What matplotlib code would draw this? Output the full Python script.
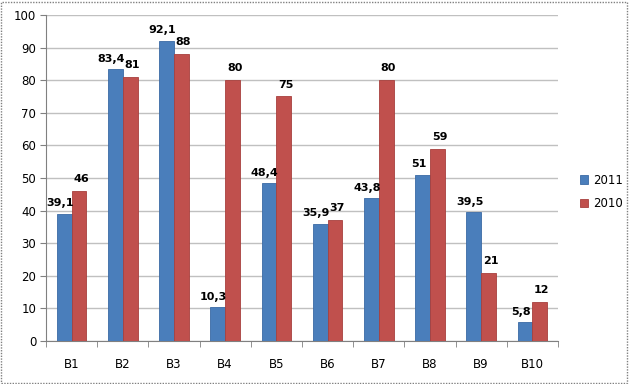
import matplotlib
matplotlib.use("Agg")
import matplotlib.pyplot as plt
import numpy as np
from matplotlib.patches import Rectangle

categories = ["B1", "B2", "B3", "B4", "B5", "B6", "B7", "B8", "B9", "B10"]
s2011 = [39.1, 83.4, 92.1, 10.3, 48.4, 35.9, 43.8, 51, 39.5, 5.8]
s2010 = [46, 81, 88, 80, 75, 37, 80, 59, 21, 12]
series_names = ["2011", "2010"]
colors = ["#4a7ebb", "#c0504d"]

def fmt(v):
    s = ("%g" % v)
    return s.replace(".", ",")

fig = plt.figure(figsize=(6.29, 3.84), dpi=100)
fig.patch.set_facecolor("white")
fig.patches.append(Rectangle((0.002, 0.003), 0.995, 0.993, transform=fig.transFigure,
                             fill=False, edgecolor="#808080", linestyle=(0, (1, 1)), linewidth=1))
ax = fig.add_axes([0.0731, 0.112, 0.814, 0.849])
x = np.arange(len(categories))
w = 0.29
b1 = ax.bar(x - w / 2, s2011, w, color=colors[0], edgecolor="#3a6aa5", linewidth=0.6, label=series_names[0], zorder=3)
b2 = ax.bar(x + w / 2, s2010, w, color=colors[1], edgecolor="#a8403d", linewidth=0.6, label=series_names[1], zorder=3)
for xi, v in zip(x, s2011):
    ax.annotate(fmt(v), (xi - w / 2, v), xytext=(-3, 4), textcoords="offset points",
                ha="center", va="bottom", fontsize=8, fontweight="bold", zorder=4)
for xi, v in zip(x, s2010):
    ax.annotate(fmt(v), (xi + w / 2, v), xytext=(1.5, 5), textcoords="offset points",
                ha="center", va="bottom", fontsize=8, fontweight="bold", zorder=4)

ax.set_xlim(-0.5, len(categories) - 0.5)
ax.set_ylim(0, 100)
ax.set_yticks(np.arange(0, 101, 10))
ax.set_xticks(x)
ax.set_xticklabels(categories)
ax.set_xticks(np.arange(-0.5, len(categories), 1), minor=True)
ax.tick_params(axis="x", which="major", length=0, pad=12, labelsize=8.5)
ax.tick_params(axis="x", which="minor", length=4, color="#808080")
ax.tick_params(axis="y", length=4, color="#808080", labelsize=8.5, pad=3)
ax.grid(axis="y", color="#c0c0c0", linewidth=1, zorder=0)
for sp in ["top", "right"]:
    ax.spines[sp].set_visible(False)
for sp in ["left", "bottom"]:
    ax.spines[sp].set_color("#808080")
    ax.spines[sp].set_linewidth(0.8)

leg = fig.legend(handles=[b1, b2], labels=series_names, loc="center left",
                 bbox_to_anchor=(0.905, 0.50), frameon=False, fontsize=8.5,
                 handlelength=0.7, handleheight=0.7, handletextpad=0.4, labelspacing=0.9)

fig.savefig("out.png", dpi=100)
